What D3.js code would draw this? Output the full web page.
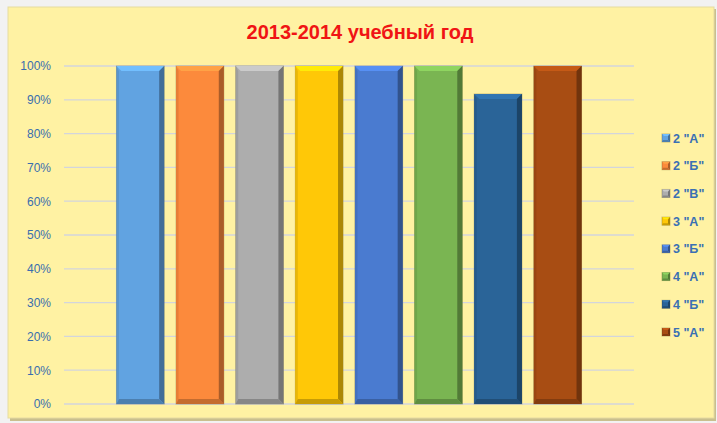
<!DOCTYPE html>
<html>
<head>
<meta charset="utf-8">
<script src="https://cdn.jsdelivr.net/npm/d3@7"></script>
<style>
  html, body { margin: 0; padding: 0; background: #f2f2f2; }
  svg { display: block; }
</style>
</head>
<body>
<svg id="chart" width="717" height="423"></svg>
<script>
const classes = ['2 "А"', '2 "Б"', '2 "В"', '3 "А"', '3 "Б"', '4 "А"', '4 "Б"', '5 "А"'];
const shares = [1, 1, 1, 1, 1, 1, 0.917, 1];
const colors = ['#61a3e1', '#fc8a3c', '#adadad', '#ffc807', '#4a7bd0', '#7ab552', '#2a6498', '#a84d13'];
const yTicks = [0, 0.1, 0.2, 0.3, 0.4, 0.5, 0.6, 0.7, 0.8, 0.9, 1];
const title = '2013-2014 учебный год';

const size = { width: 717, height: 423 };
const plot = { left: 64, right: 634, top: 66, bottom: 404 };

const svg = d3.select('#chart');

// chart box with a soft shadow
svg.append('rect')
  .attr('x', 10).attr('y', 9)
  .attr('width', 706).attr('height', 412)
  .attr('fill', '#c9bf8e');
svg.append('rect')
  .attr('x', 8).attr('y', 7)
  .attr('width', 706).attr('height', 411)
  .attr('fill', '#fff2a3')
  .attr('stroke', '#e6dba0');

svg.append('text')
  .attr('x', 360).attr('y', 39)
  .attr('text-anchor', 'middle')
  .attr('font-family', 'Liberation Sans, Arial, sans-serif')
  .attr('font-weight', 'bold')
  .attr('font-size', 20)
  .attr('fill', '#f01414')
  .text(title);

// Scales
const x = d3.scaleBand()
  .domain(classes)
  .range([plot.left, plot.right])
  .paddingInner(0.2)
  .paddingOuter(0.88);

const y = d3.scaleLinear()
  .domain([0, 1])
  .range([plot.bottom, plot.top]);

// Grid
svg.append('g')
  .selectAll('line')
  .data(yTicks)
  .join('line')
  .attr('x1', plot.left).attr('x2', plot.right)
  .attr('y1', d => y(d)).attr('y2', d => y(d))
  .attr('stroke', '#d3d5dc')
  .attr('stroke-width', 1.3);

// Y axis labels
const yAxis = d3.axisLeft(y)
  .tickValues(yTicks)
  .tickFormat(d3.format('.0%'))
  .tickSize(0)
  .tickPadding(0);

const yG = svg.append('g')
  .attr('transform', `translate(51,0)`)
  .call(yAxis);
yG.select('.domain').remove();
yG.selectAll('text')
  .attr('font-family', 'Liberation Sans, Arial, sans-serif')
  .attr('font-size', 12)
  .attr('fill', '#3a6eae');

// Bevelled bars
function bevel(g, x0, y0, w, h, color, b) {
  const c = d3.color(color);
  g.append('rect')
    .attr('x', x0).attr('y', y0).attr('width', w).attr('height', h)
    .attr('fill', color)
    .attr('stroke', 'rgba(90,80,40,0.35)')
    .attr('stroke-width', 1);
  const pts = (arr) => arr.map(p => p.join(',')).join(' ');
  // top
  g.append('polygon')
    .attr('points', pts([[x0, y0], [x0 + w, y0], [x0 + w - b, y0 + b], [x0 + b, y0 + b]]))
    .attr('fill', c.brighter(0.45));
  // left
  g.append('polygon')
    .attr('points', pts([[x0, y0], [x0 + b * 0.5, y0 + b], [x0 + b * 0.5, y0 + h - b], [x0, y0 + h]]))
    .attr('fill', c.darker(0.25));
  // right
  g.append('polygon')
    .attr('points', pts([[x0 + w, y0], [x0 + w, y0 + h], [x0 + w - b, y0 + h - b], [x0 + w - b, y0 + b]]))
    .attr('fill', c.darker(1.1));
  // bottom
  g.append('polygon')
    .attr('points', pts([[x0, y0 + h], [x0 + w, y0 + h], [x0 + w - b, y0 + h - b], [x0 + b * 0.5, y0 + h - b]]))
    .attr('fill', c.darker(0.7));
}

const bars = svg.append('g');
classes.forEach((cls, i) => {
  const g = bars.append('g');
  const top = y(shares[i]);
  bevel(g, x(cls), top, x.bandwidth(), y(0) - top, colors[i], 5);
});

// Legend
const legendY = d3.scalePoint()
  .domain(classes)
  .range([138, 332]);

const legend = svg.append('g');
classes.forEach((cls, i) => {
  const g = legend.append('g');
  bevel(g, 662, legendY(cls) - 4, 8, 8, colors[i], 2);
  g.append('text')
    .attr('x', 673).attr('y', legendY(cls) + 4.5)
    .attr('font-family', 'Liberation Sans, Arial, sans-serif')
    .attr('font-weight', 'bold')
    .attr('font-size', 12.5)
    .attr('fill', '#3a70b4')
    .text(cls);
});
</script>
</body>
</html>
